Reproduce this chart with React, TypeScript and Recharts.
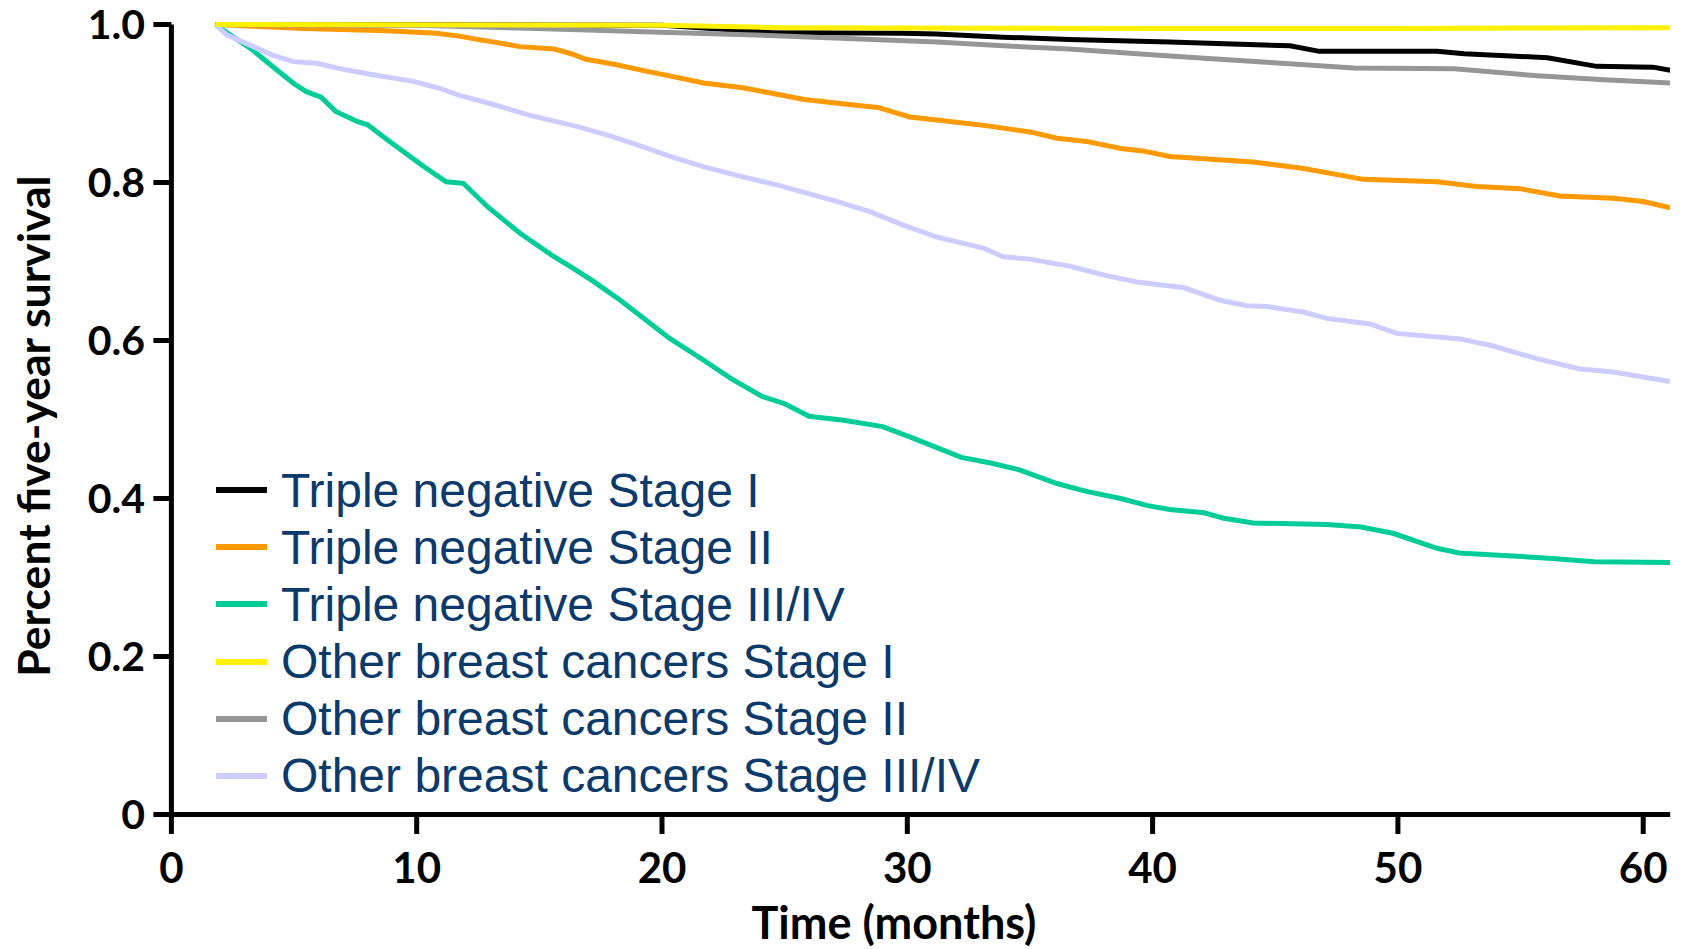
import React from 'react';
import { LineChart, Line, XAxis, YAxis, Legend } from 'recharts';

// x-axis: months, y-axis: survival proportion
const xTicks = [0, 10, 20, 30, 40, 50, 60];
const yTicks = [0, 0.2, 0.4, 0.6, 0.8, 1.0];

const seriesNames = [
  'Triple negative Stage I',
  'Triple negative Stage II',
  'Triple negative Stage III/IV',
  'Other breast cancers Stage I',
  'Other breast cancers Stage II',
  'Other breast cancers Stage III/IV',
];
const seriesColors = ['#000000', '#FF9900', '#00CC99', '#FFF100', '#969696', '#CCCCFF'];

const tnStage1Months = [1.8, 20, 22, 24.4, 29.8, 31.2, 33.9, 36.6, 40.7, 45.6, 46.8, 51.6, 52.7, 56.1, 58.1, 60.4, 61.1];
const tnStage1Surv = [1.0, 0.999, 0.995, 0.99, 0.989, 0.988, 0.984, 0.981, 0.978, 0.973, 0.966, 0.966, 0.963, 0.958, 0.947, 0.946, 0.942];

const tnStage2Months = [1.8, 5.4, 8.8, 10.8, 11.8, 12.5, 13.1, 14.2, 15.6, 16.3, 16.9, 18.0, 19.2, 20.3, 21.7, 23.3, 25.8, 27.8, 28.8, 30.1, 31.2, 33.2, 35.0, 36.1, 37.3, 38.7, 39.6, 40.7, 44.1, 46.1, 48.6, 51.6, 53.2, 55.0, 56.6, 58.8, 60.0, 61.1];
const tnStage2Surv = [1.0, 0.995, 0.992, 0.989, 0.985, 0.981, 0.978, 0.972, 0.969, 0.963, 0.956, 0.95, 0.942, 0.935, 0.926, 0.92, 0.905, 0.898, 0.895, 0.883, 0.879, 0.872, 0.864, 0.856, 0.852, 0.843, 0.84, 0.833, 0.826, 0.818, 0.804, 0.801, 0.795, 0.792, 0.783, 0.78, 0.776, 0.768];

const tnStage34Months = [1.8, 2.0, 3.3, 4.2, 5.0, 5.5, 6.1, 6.7, 7.6, 8.0, 8.8, 10.3, 11.2, 11.9, 12.9, 14.2, 15.6, 16.3, 17.1, 18.3, 20.3, 21.7, 22.8, 24.1, 25.0, 26.0, 27.4, 29.0, 30.1, 32.2, 33.4, 34.6, 36.1, 37.3, 38.7, 39.8, 40.7, 42.1, 42.9, 44.1, 47.1, 48.5, 49.8, 51.6, 52.5, 54.3, 56.3, 58.0, 61.1];
const tnStage34Surv = [1.0, 0.995, 0.968, 0.945, 0.925, 0.915, 0.908, 0.89, 0.877, 0.873, 0.854, 0.82, 0.801, 0.799, 0.769, 0.736, 0.706, 0.693, 0.677, 0.651, 0.603, 0.575, 0.552, 0.529, 0.52, 0.504, 0.499, 0.491, 0.478, 0.452, 0.445, 0.436, 0.419, 0.409, 0.4, 0.391, 0.386, 0.382, 0.375, 0.369, 0.367, 0.364, 0.356, 0.337, 0.331, 0.328, 0.324, 0.32, 0.319];

const otherStage1Months = [1.8, 20, 25, 40, 50, 61.1];
const otherStage1Surv = [1.0, 0.999, 0.996, 0.995, 0.995, 0.996];

const otherStage2Months = [1.8, 10, 14.9, 20.3, 24.4, 31.2, 33.9, 36.6, 40.7, 44.8, 48.2, 52.3, 55.7, 58.4, 61.1];
const otherStage2Surv = [1.0, 0.999, 0.995, 0.99, 0.986, 0.978, 0.973, 0.969, 0.96, 0.952, 0.945, 0.944, 0.935, 0.93, 0.926];

const otherStage34Months = [1.8, 2.25, 3.34, 4.15, 4.97, 5.92, 6.74, 8.1, 9.86, 10.95, 11.77, 12.99, 14.62, 16.52, 17.88, 19.24, 20.33, 21.68, 23.05, 24.68, 27.12, 28.48, 29.84, 31.2, 33.1, 33.91, 35.0, 36.63, 37.99, 39.35, 40.71, 41.25, 42.75, 43.84, 44.65, 46.14, 47.1, 48.86, 49.95, 52.53, 53.89, 55.66, 57.42, 58.78, 61.09];
const otherStage34Surv = [1.0, 0.987, 0.972, 0.961, 0.953, 0.951, 0.945, 0.937, 0.928, 0.919, 0.91, 0.9, 0.885, 0.871, 0.859, 0.845, 0.833, 0.82, 0.809, 0.797, 0.776, 0.763, 0.746, 0.731, 0.717, 0.706, 0.703, 0.694, 0.683, 0.674, 0.669, 0.667, 0.651, 0.644, 0.643, 0.636, 0.628, 0.621, 0.609, 0.602, 0.593, 0.577, 0.564, 0.56, 0.548];

const toRows = (months: number[], surv: number[]) =>
  months.map((m, i) => ({ month: m, survival: surv[i] }));

const seriesData = [
  toRows(tnStage1Months, tnStage1Surv),
  toRows(tnStage2Months, tnStage2Surv),
  toRows(tnStage34Months, tnStage34Surv),
  toRows(otherStage1Months, otherStage1Surv),
  toRows(otherStage2Months, otherStage2Surv),
  toRows(otherStage34Months, otherStage34Surv),
];

// draw order (yellow on top, lavender over green)
const drawOrder = [0, 1, 2, 4, 5, 3];

const tickFont = { fill: '#000', fontFamily: 'Lato', fontWeight: 700 };

const LegendBox = () => (
  <div>
    {seriesNames.map((name, i) => (
      <div key={name} style={{ display: 'flex', alignItems: 'center', height: 57.2 }}>
        <div style={{ width: 51, height: 6, background: seriesColors[i], marginRight: 14 }} />
        <span
          style={{
            fontFamily: '"Liberation Sans", Arial, sans-serif',
            fontSize: 48,
            lineHeight: '57.2px',
            color: '#0B3A6B',
            whiteSpace: 'nowrap',
          }}
        >
          {name}
        </span>
      </div>
    ))}
  </div>
);

export default function App() {
  return (
    <div style={{ position: 'absolute', left: 0, top: 0, width: 1686, height: 949, background: '#fff' }}>
      <LineChart width={1686} height={949} margin={{ top: 24.5, right: 15.8, bottom: 0, left: 0 }}>
        <XAxis
          type="number"
          dataKey="month"
          domain={[0, 61.1]}
          ticks={xTicks}
          interval={0}
          allowDataOverflow
          height={134.5}
          tickSize={19.5}
          tickMargin={18.8}
          axisLine={{ stroke: '#000', strokeWidth: 5 }}
          tickLine={{ stroke: '#000', strokeWidth: 5 }}
          tick={{ ...tickFont, fontSize: 42 }}
          label={{
            content: (props: any) => {
              const vb = props.viewBox || { x: 171.4, y: 814.5, width: 1498.8, height: 134.5 };
              return (
                <text
                  x={vb.x + 722.6}
                  y={vb.y + 124.5}
                  textAnchor="middle"
                  fontFamily="Lato"
                  fontWeight={700}
                  fontSize={45}
                  fill="#000"
                >
                  Time (months)
                </text>
              );
            },
          }}
        />
        <YAxis
          type="number"
          domain={[0, 1]}
          ticks={yTicks}
          interval={0}
          width={171.4}
          tickSize={18}
          tickMargin={8.4}
          tickFormatter={(v: number) => (v === 0 ? '0' : v.toFixed(1))}
          axisLine={{ stroke: '#000', strokeWidth: 5 }}
          tickLine={{ stroke: '#000', strokeWidth: 5 }}
          tick={{ ...tickFont, fontSize: 41 }}
          label={{
            content: (props: any) => {
              const vb = props.viewBox || { x: 0, y: 24.5, width: 171.4, height: 790 };
              const cx = vb.x + 50;
              const cy = vb.y + vb.height / 2 + 6.5;
              return (
                <text
                  x={cx}
                  y={cy}
                  transform={`rotate(-90 ${cx} ${cy})`}
                  textAnchor="middle"
                  fontFamily="Lato"
                  fontWeight={700}
                  fontSize={44.5}
                  fill="#000"
                >
                  Percent five-year survival
                </text>
              );
            },
          }}
        />
        {drawOrder.map((i) => (
          <Line
            key={seriesNames[i]}
            data={seriesData[i]}
            dataKey="survival"
            name={seriesNames[i]}
            type="linear"
            stroke={seriesColors[i]}
            strokeWidth={5}
            dot={false}
            activeDot={false}
            isAnimationActive={false}
          />
        ))}
        <Legend
          layout="vertical"
          align="center"
          verticalAlign="middle"
          wrapperStyle={{ left: 216, top: 461.5, width: 'auto' }}
          content={() => <LegendBox />}
        />
      </LineChart>
    </div>
  );
}
